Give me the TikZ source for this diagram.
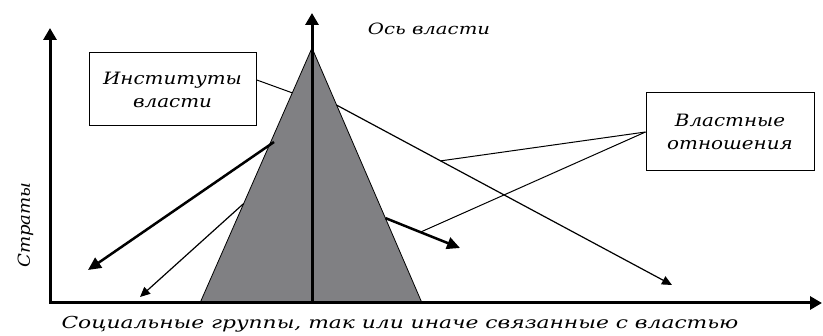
\documentclass[tikz,border=0pt]{standalone}
\usepackage{fontspec}
\setmainfont{DejaVu Serif}
\usetikzlibrary{calc,arrows.meta}
\definecolor{pyramid}{RGB}{128,128,131}
\begin{document}
\begin{tikzpicture}[x=1pt,y=-1pt,
  axisline/.style={draw,line width=3pt,{Triangle[length=12pt,width=13pt]}-{Triangle[length=12pt,width=13pt]}},
  powerline/.style={draw,line width=3pt,-{Triangle[length=12pt,width=13pt]}},
  bigarrow/.style={draw,line width=2.5pt,-{Triangle[length=13pt,width=12pt]}},
  smallarrow/.style={draw,line width=1.2pt,-{Triangle[length=10pt,width=9pt]}},
  pointer/.style={draw,line width=1pt},
  textbox/.style={draw,line width=1pt,fill=white,align=center,inner sep=0pt,
    font=\itshape\addfontfeature{FakeStretch=1.17}\fontsize{17}{23}\selectfont},
  caption/.style={font=\itshape\addfontfeature{FakeStretch=1.32}\fontsize{16.5}{20}\selectfont}]
\useasboundingbox (0,0) rectangle (823,336);

\coordinate (apex) at (312,48);
\coordinate (bl) at (200,303);
\coordinate (br) at (422,303);
\path[draw,line width=0.8pt,fill=pyramid] (apex) -- (bl) -- (br) -- cycle;

\coordinate (top) at (50,28);
\coordinate (origin) at (50,303);
\coordinate (right) at (822,303);
\coordinate (foot) at (312,303);
\coordinate (peak) at (312,13);
\path[axisline] (top) -- (origin) -- (right);
\path[powerline] (foot) -- (peak);

\node[caption,anchor=base,font=\itshape\addfontfeature{FakeStretch=1.27}\fontsize{15.5}{20}\selectfont] (axisname) at (429,35) {Ось власти};
\node[caption,anchor=base,rotate=90,font=\itshape\addfontfeature{FakeStretch=1.1}\fontsize{16.5}{20}\selectfont] (strata) at (30,225) {Страты};
\node[caption,anchor=base] (groups) at (400,329) {Социальные группы, так или иначе связанные с властью};

\node[textbox,minimum width=167,minimum height=73] (inst) at (172.5,89.5) {Институты\\власти};
\node[textbox,minimum width=168,minimum height=78] (rel) at (730,132) {Властные\\отношения};

\coordinate (a1) at (274,142);
\coordinate (b1) at (88,270);
\coordinate (a2) at ($(apex)!0.61!(bl)$);
\coordinate (b2) at (140,297);
\coordinate (a3) at ($(apex)!0.667!(br)$);
\coordinate (b3) at (460,248);
\coordinate (a4) at ($(apex)!0.224!(br)$);
\coordinate (b4) at (672,285);

\path[bigarrow] (a1) -- (b1);
\path[smallarrow] (a2) -- (b2);
\path[bigarrow] (a3) -- (b3);
\path[smallarrow] (a4) -- (b4);

\path[pointer] ($(inst.north east)!0.37!(inst.south east)$) -- ($(apex)!0.176!(bl)$);
\path[pointer] (rel.west) -- ($(a4)!0.31!(b4)$);
\path[pointer] (rel.west) -- ($(a3)!0.47!(b3)$);
\end{tikzpicture}
\end{document}
